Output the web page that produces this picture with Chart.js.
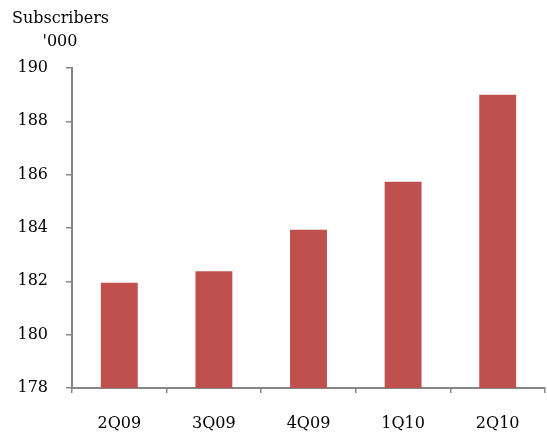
<!DOCTYPE html>
<html>
<head>
<meta charset="utf-8">
<script src="https://cdn.jsdelivr.net/npm/chart.js@4/dist/chart.umd.min.js"></script>
<style>
  html, body { margin: 0; padding: 0; background: #fff; }
  #wrap { width: 547px; height: 432px; }
</style>
</head>
<body>
<div id="wrap"><canvas id="c" width="547" height="432"></canvas></div>
<script>
// Quarterly subscriber counts, thousands
const quarters = ['2Q09', '3Q09', '4Q09', '1Q10', '2Q10'];
const subscribers = [181.95, 182.38, 183.93, 185.73, 189.0];
const yTicks = [178, 180, 182, 184, 186, 188, 190];

const FONT = '"DejaVu Serif", serif';
const AXIS = '#868686';

// Unit caption above the value axis
const caption = {
  id: 'caption',
  afterDraw(chart) {
    const ctx = chart.ctx;
    ctx.save();
    ctx.fillStyle = '#000';
    ctx.font = '16px ' + FONT;
    ctx.textBaseline = 'middle';
    ctx.textAlign = 'left';
    ctx.fillText('Subscribers', 12, 19);
    ctx.textAlign = 'center';
    ctx.fillText("'000", 60, 42);
    ctx.restore();
  }
};

new Chart(document.getElementById('c'), {
  type: 'bar',
  data: {
    labels: quarters,
    datasets: [{
      data: subscribers,
      backgroundColor: '#C0504D',
      borderWidth: 0,
      barPercentage: 0.39,
      categoryPercentage: 1.0
    }]
  },
  options: {
    responsive: false,
    animation: false,
    devicePixelRatio: 1,
    layout: { padding: { top: 68, right: 2, left: 0, bottom: 0 } },
    plugins: { legend: { display: false }, tooltip: { enabled: false } },
    scales: {
      x: {
        afterFit(axis) { axis.height = 44; },
        grid: {
          offset: true,
          drawOnChartArea: false,
          drawTicks: true,
          tickLength: 5,
          color: AXIS,
          lineWidth: 1.5
        },
        border: { color: AXIS, width: 2 },
        ticks: {
          color: '#000',
          font: { family: FONT, size: 16 },
          padding: 21
        }
      },
      y: {
        min: 178,
        max: 190,
        afterBuildTicks(axis) { axis.ticks = yTicks.map(v => ({ value: v })); },
        afterFit(axis) { axis.width = 72; },
        grid: {
          drawOnChartArea: false,
          drawTicks: true,
          tickLength: 6,
          color: AXIS,
          lineWidth: 1.5
        },
        border: { color: AXIS, width: 2 },
        ticks: {
          color: '#000',
          font: { family: FONT, size: 16 },
          padding: 18
        }
      }
    }
  },
  plugins: [caption]
});
</script>
</body>
</html>
